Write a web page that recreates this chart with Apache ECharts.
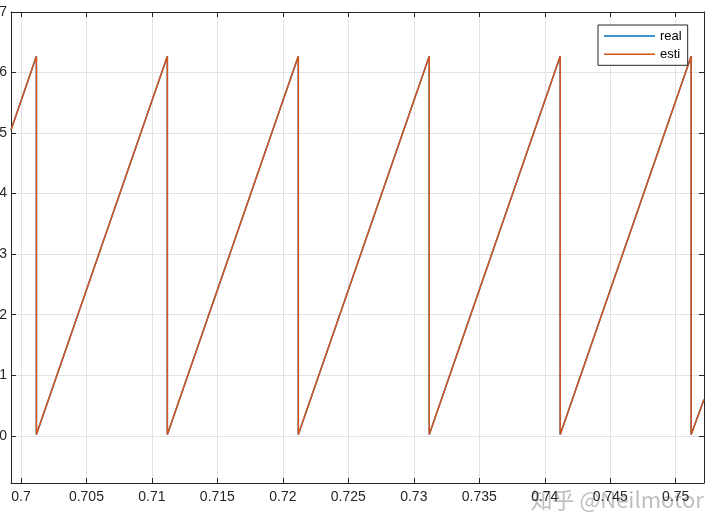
<!DOCTYPE html>
<html>
<head>
<meta charset="utf-8">
<script src="https://cdn.jsdelivr.net/npm/echarts@6/dist/echarts.min.js"></script>
<style>html,body{margin:0;padding:0;background:#fff;}#c{width:720px;height:530px;}</style>
</head>
<body>
<div id="c"></div>
<script>
// Sawtooth vertices (drop points and edges)
const xVals = [0.69924, 0.70118, 0.70118, 0.71118, 0.71118, 0.72118, 0.72118, 0.73118, 0.73118, 0.74118, 0.74118, 0.75118, 0.75118, 0.75216];
const realY = [5.05, 6.27, 0.02, 6.27, 0.02, 6.27, 0.02, 6.27, 0.02, 6.27, 0.02, 6.27, 0.02, 0.6];
const estiY = [5.05, 6.27, 0.02, 6.27, 0.02, 6.27, 0.02, 6.27, 0.02, 6.27, 0.02, 6.27, 0.02, 0.6];
const seriesNames = ['real', 'esti'];
const xRange = [0.69924, 0.75216];
const yRange = [-0.78, 7];

const pts = ys => xVals.map((x, i) => [x, ys[i]]);
const axisColor = '#262626';
const gridColor = '#e3e3e3';
const font = 'Liberation Sans, Arial, sans-serif';
const isXTick = v => Math.abs(v * 200 - Math.round(v * 200)) < 1e-6;
const isYTick = v => Math.abs(v - Math.round(v)) < 1e-6;

const chart = echarts.init(document.getElementById('c'), null, {renderer: 'canvas'});
chart.setOption({
  animation: false,
  backgroundColor: '#fff',
  grid: {left: 11, top: 12, width: 693, height: 471, containLabel: false, outerBoundsMode: 'none'},
  legend: {
    orient: 'vertical', left: 598, top: 25,
    padding: [4, 6, 4, 6], itemGap: 4.3,
    itemWidth: 51, itemHeight: 1.5, itemTextGap: 5,
    icon: 'rect',
    backgroundColor: '#fff', borderColor: axisColor, borderWidth: 1, borderRadius: 0,
    textStyle: {fontSize: 13, fontFamily: font, color: '#000', lineHeight: 14},
    data: seriesNames
  },
  xAxis: [{
    type: 'value', min: xRange[0], max: xRange[1], splitNumber: 10,
    axisLine: {show: true, onZero: false, lineStyle: {color: axisColor, width: 1}},
    axisTick: {show: true, inside: true, length: 5, lineStyle: {color: axisColor}},
    axisLabel: {show: true, margin: 7, fontSize: 14, fontFamily: font, color: axisColor,
      showMinLabel: true, showMaxLabel: true, hideOverlap: false,
      formatter: v => isXTick(v) ? String(+v.toFixed(3)) : ''},
    splitLine: {show: true, lineStyle: {color: gridColor, width: 1}}
  }, {
    type: 'value', position: 'top', min: xRange[0], max: xRange[1], splitNumber: 10,
    axisLine: {show: true, onZero: false, lineStyle: {color: axisColor, width: 1}},
    axisTick: {show: true, inside: true, length: 5, lineStyle: {color: axisColor}},
    axisLabel: {show: false}, splitLine: {show: false}
  }],
  yAxis: [{
    type: 'value', min: yRange[0], max: yRange[1], splitNumber: 8,
    axisLine: {show: true, onZero: false, lineStyle: {color: axisColor, width: 1}},
    axisTick: {show: true, inside: true, length: 5, lineStyle: {color: axisColor}},
    axisLabel: {show: true, margin: 4, fontSize: 14, fontFamily: font, color: axisColor,
      formatter: v => isYTick(v) ? String(Math.round(v)) : ''},
    splitLine: {show: true, lineStyle: {color: gridColor, width: 1}}
  }, {
    type: 'value', position: 'right', min: yRange[0], max: yRange[1], splitNumber: 8,
    axisLine: {show: true, onZero: false, lineStyle: {color: axisColor, width: 1}},
    axisTick: {show: true, inside: true, length: 5, lineStyle: {color: axisColor}},
    axisLabel: {show: false}, splitLine: {show: false}
  }],
  series: [{
    name: seriesNames[0], type: 'line', data: pts(realY), showSymbol: false, symbol: 'none',
    color: '#0072BD', lineStyle: {width: 1.5, color: '#0072BD'}, clip: true
  }, {
    name: seriesNames[1], type: 'line', data: pts(estiY), showSymbol: false, symbol: 'none',
    color: '#D95319', lineStyle: {width: 1.5, color: '#D95319'}, clip: true
  }],
  graphic: [{
    type: 'text', left: 530, top: 488, silent: true,
    style: {text: '知乎 @Neilmotor', fontSize: 22, fontFamily: 'Noto Sans CJK SC, sans-serif',
      fill: 'rgba(170,170,170,0.75)', stroke: 'rgba(255,255,255,0.6)', lineWidth: 1}
  }]
});
</script>
</body>
</html>
